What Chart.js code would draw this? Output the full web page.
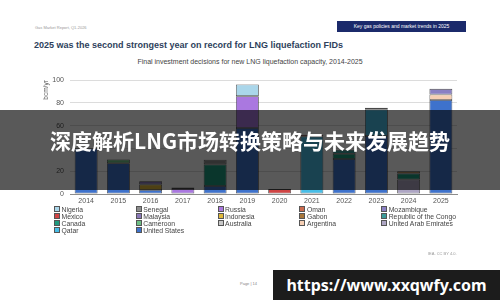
<!DOCTYPE html>
<html>
<head>
<meta charset="utf-8">
<script src="https://cdn.jsdelivr.net/npm/chart.js@4.4.1/dist/chart.umd.min.js"></script>
<style>
    html, body { margin: 0; padding: 0; background: #fff; width: 500px; height: 300px; overflow: hidden; font-family: "Liberation Sans", Arial, sans-serif; }
    .abs { position: absolute; white-space: nowrap; }
    #report { left: 35px; top: 25px; font-size: 4px; color: #999; }
    #section { left: 337px; top: 21px; width: 129px; height: 11px; line-height: 11px; background: #1b2a6b; color: #fff; font-size: 5px; text-align: center; }
    #title { left: 34px; top: 40px; font-size: 9px; line-height: 10px; font-weight: bold; color: #2e3f5c; }
    #subtitle { left: 0; width: 500px; top: 58px; font-size: 7px; line-height: 7px; color: #444; text-align: center; }
    #chart-box { position: absolute; left: 30px; top: 70px; width: 435px; height: 140px; }
    .legend-item { position: absolute; font-size: 6.8px; line-height: 7px; color: #444; white-space: nowrap; }
    .legend-box { display: inline-block; width: 4px; height: 4px; border: 0.6px solid #555; margin-right: 1.5px; vertical-align: -0.3px; }
    #credit { left: 428px; top: 251px; font-size: 4px; color: #999; }
    #page { left: 240px; top: 281px; font-size: 4px; color: #888; }
    #banner { position: absolute; left: 0; top: 110px; width: 500px; height: 80px; background: rgba(0, 0, 0, 0.65); }
    #banner div { position: absolute; left: 0; width: 500px; top: 15px; line-height: 30px; text-align: center; color: #fff; font-weight: bold; font-size: 21px; font-family: "Noto Sans CJK SC", "Noto Sans", sans-serif; }
    #watermark { position: absolute; left: 273px; top: 270px; width: 227px; height: 30px; line-height: 30px; background: #1c1c1c; color: #fff; font-weight: bold; font-size: 16px; text-align: center; font-family: "Noto Sans", "Open Sans", sans-serif; }
</style>
</head>
<body>
<div class="abs" id="report">Gas Market Report, Q1-2026</div>
<div class="abs" id="section">Key gas policies and market trends in 2025</div>
<div class="abs" id="title">2025 was the second strongest year on record for LNG liquefaction FIDs</div>
<div class="abs" id="subtitle">Final investment decisions for new LNG liquefaction capacity, 2014-2025</div>
<div id="chart-box"><canvas id="fidChart" width="435" height="140"></canvas></div>
<div id="legend"></div>
<div class="abs" id="credit">IEA. CC BY 4.0.</div>
<div class="abs" id="page">Page | 14</div>
<div id="banner"><div>深度解析LNG市场转换策略与未来发展趋势</div></div>
<div id="watermark">https://www.xxqwfy.com</div>

<script>
// Years on the x axis
const years = ['2014', '2015', '2016', '2017', '2018', '2019', '2020', '2021', '2022', '2023', '2024', '2025'];

// FID capacity by country, bcm/yr
const unitedStates = [40.3, 27, 3.5, null, 7, 58, null, null, 30.7, 51, null, 82.6];
const uae =          [null, null, null, null, null, null, null, null, null, null, 12.8, null];
const russia =       [null, null, null, 4.5, null, 28, null, null, null, null, null, null];
const qatar =        [null, null, null, null, null, null, null, 50.5, null, 23.4, null, null];
const mexico =       [null, null, null, null, null, null, 4.3, 1.5, null, null, null, null];
const canada =       [null, null, null, null, 19, null, null, null, 4.7, null, 5.2, null];
const indonesia =    [null, null, 4.9, null, null, null, null, null, null, null, null, null];
const malaysia =     [null, null, 2.9, null, null, null, null, null, null, null, null, null];
const cameroon =     [null, 3.4, null, null, null, null, null, null, null, null, null, null];
const senegal =      [null, null, null, null, 4.2, null, null, null, null, null, null, null];
const congo =        [null, null, null, null, null, null, null, null, 3.5, null, null, null];
const oman =         [null, null, null, null, null, null, null, null, null, 1.5, null, null];
const gabon =        [null, null, null, null, null, null, null, null, null, null, 2, null];
const argentina =    [null, null, null, null, null, null, null, null, null, null, null, 4.9];
const mozambique =   [null, null, null, 1.3, null, null, null, null, null, null, null, 4.9];
const nigeria =      [null, null, null, null, null, 10.2, null, null, null, null, null, null];
const australia =    [null, null, null, null, null, null, null, null, null, null, null, null];

// Legend reads down the columns
const legendOrder = ['Nigeria', 'Mexico', 'Canada', 'Qatar', 'Senegal', 'Malaysia', 'Cameroon', 'United States',
    'Russia', 'Indonesia', 'Australia', 'Oman', 'Gabon', 'Argentina', 'Mozambique', 'Republic of the Congo', 'United Arab Emirates'];

// Stack order, bottom first
const series = [
    { label: 'United States', data: unitedStates, color: '#3e72cc' },
    { label: 'United Arab Emirates', data: uae, color: '#aea6c4' },
    { label: 'Russia', data: russia, color: '#aa78e0' },
    { label: 'Qatar', data: qatar, color: '#48bde6' },
    { label: 'Mexico', data: mexico, color: '#d04444' },
    { label: 'Canada', data: canada, color: '#1f9a7e' },
    { label: 'Indonesia', data: indonesia, color: '#e0b83a' },
    { label: 'Malaysia', data: malaysia, color: '#8a78b8' },
    { label: 'Cameroon', data: cameroon, color: '#6cbf84' },
    { label: 'Senegal', data: senegal, color: '#8c8c8c' },
    { label: 'Republic of the Congo', data: congo, color: '#3a9a98' },
    { label: 'Oman', data: oman, color: '#cc6a4e' },
    { label: 'Gabon', data: gabon, color: '#a8763a' },
    { label: 'Argentina', data: argentina, color: '#f6cfb4' },
    { label: 'Mozambique', data: mozambique, color: '#8a80c4' },
    { label: 'Nigeria', data: nigeria, color: '#aad6ea' },
    { label: 'Australia', data: australia, color: '#c8c8c8' }
];

function buildLegend() {
    const legend = document.getElementById('legend');
    const colorOf = {};
    series.forEach(s => { colorOf[s.label] = s.color; });
    legendOrder.forEach((name, i) => {
        // columns hold 4, 4, 3, 3, 3 entries
        let c, r;
        if (i < 8) { c = Math.floor(i / 4); r = i % 4; }
        else { c = 2 + Math.floor((i - 8) / 3); r = (i - 8) % 3; }
        const item = document.createElement('div');
        item.className = 'legend-item';
        item.style.left = (54 + c * 81.8) + 'px';
        item.style.top = (206 + r * 6.9) + 'px';
        item.innerHTML = `<span class="legend-box" style="background:${colorOf[name]}"></span>${name}`;
        legend.appendChild(item);
    });
}

const ctx = document.getElementById('fidChart').getContext('2d');
new Chart(ctx, {
    type: 'bar',
    data: {
        labels: years,
        datasets: series.map(s => ({
            label: s.label,
            data: s.data,
            backgroundColor: s.color,
            borderColor: 'rgba(40, 40, 40, 0.85)',
            borderWidth: 0.8,
            borderSkipped: false,
            barPercentage: 0.71,
            categoryPercentage: 1
        }))
    },
    options: {
        responsive: false,
        animation: false,
        layout: { padding: { top: 9, right: 8, left: 12, bottom: 0 } },
        plugins: {
            legend: { display: false },
            tooltip: { enabled: false }
        },
        scales: {
            x: {
                stacked: true,
                grid: { drawOnChartArea: false, drawTicks: false },
                border: { color: '#8c8c8c' },
                ticks: { color: '#555', font: { size: 7, family: 'Liberation Sans' }, padding: 3 },
                afterFit: (scale) => { scale.height = 16; }
            },
            y: {
                stacked: true,
                min: 0,
                max: 100,
                ticks: { stepSize: 20, color: '#555', font: { size: 7, family: 'Liberation Sans' }, padding: 6 },
                grid: { color: '#dcdcdc', drawTicks: false },
                border: { display: false },
                title: { display: true, text: 'bcm/yr', align: 'end', color: '#555', font: { size: 6.5, family: 'Liberation Sans' }, padding: 0 },
                afterFit: (scale) => { scale.width = 28; }
            }
        }
    }
});

buildLegend();
</script>
</body>
</html>
